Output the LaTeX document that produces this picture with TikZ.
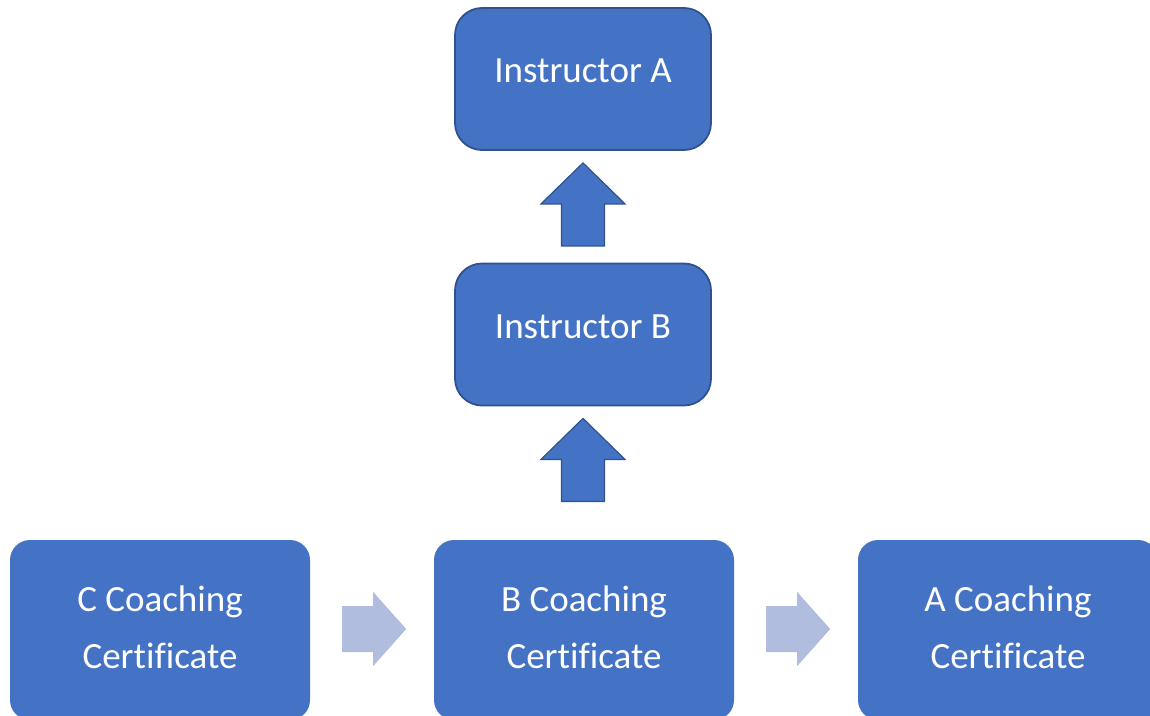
\documentclass[tikz,border=0pt]{standalone}
\usepackage{fontspec}
\setmainfont{Carlito}[Ligatures=NoCommon]
\definecolor{boxblue}{RGB}{68,114,196}
\definecolor{edgeblue}{RGB}{47,82,143}
\definecolor{paleblue}{RGB}{177,189,223}
\tikzset{
rankbox/.style={draw=edgeblue,line width=1.8pt,fill=boxblue,rounded corners=27pt,minimum width=256pt,minimum height=142pt,text=white,font=\fontsize{37}{57}\selectfont},
certbox/.style={fill=boxblue,rounded corners=20pt,minimum width=300pt,minimum height=180pt,text=white,align=center,font=\fontsize{37}{57}\selectfont},
uparrow/.style={draw=edgeblue,line width=1.2pt,fill=boxblue,line join=miter},
sidearrow/.style={fill=paleblue}
}
\begin{document}
\begin{tikzpicture}[x=1pt,y=-1pt]
\useasboundingbox (0,0) rectangle (1150,715);
\node[rankbox] (insA) at (583,79) {\raisebox{16pt}{Instructor A}};
\node[rankbox] (insB) at (583,334.5) {\raisebox{16pt}{Instructor B}};
\node[certbox,text depth=6pt] (certC) at (160,630) {C Coaching\\Certificate};
\node[certbox,text depth=6pt] (certB) at (584,630) {B Coaching\\Certificate};
\node[certbox,text depth=6pt] (certA) at (1008,630) {A Coaching\\Certificate};
% block arrows
\foreach \n in {insA,insB}
  \draw[uparrow,shift={(\n.south)}] (0,12)--(42,53)--(21.5,53)--(21.5,95)--(-21.5,95)--(-21.5,53)--(-42,53)--cycle;
\foreach \n in {certC,certB}
  \fill[sidearrow,shift={(\n.east)}] (32,-24)--(63,-24)--(63,-38)--(96,-1)--(63,36)--(63,22)--(32,22)--cycle;
\end{tikzpicture}
\end{document}
